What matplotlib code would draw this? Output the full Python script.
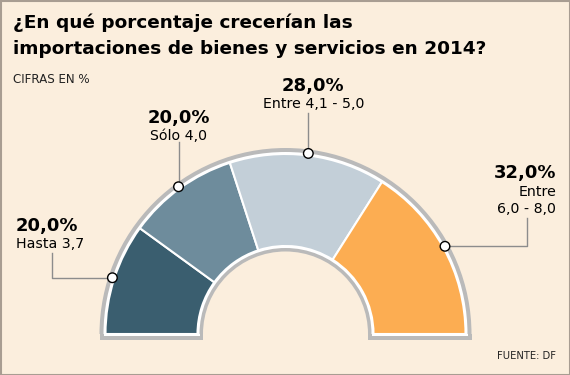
import matplotlib
matplotlib.use("Agg")
import matplotlib.pyplot as plt
from matplotlib.patches import Wedge, Rectangle, Circle
import numpy as np

# datos del grafico
pcts = [20.0, 20.0, 28.0, 32.0]
pct_labels = ["20,0%", "20,0%", "28,0%", "32,0%"]
range_labels = ["Hasta 3,7", "Sólo 4,0", "Entre 4,1 - 5,0", "Entre\n6,0 - 8,0"]
colors = ["#3a5e6f", "#6e8c9c", "#c3cfd8", "#fcad52"]
title = "¿En qué porcentaje crecerían las\nimportaciones de bienes y servicios en 2014?"
subtitle = "CIFRAS EN %"
source = "FUENTE: DF"

bg = "#fbeedd"
plt.rcParams['font.family'] = ['DejaVu Sans']

fig = plt.figure(figsize=(5.7, 3.75), dpi=100)
fig.patch.set_facecolor(bg)
ax = fig.add_axes([0, 0, 1, 1])
ax.set_xlim(0, 570)
ax.set_ylim(375, 0)
ax.axis("off")

# marco
ax.add_patch(Rectangle((0.5, 0.5), 569, 374, fill=False, edgecolor="#a89d92", lw=1.5))

# textos de cabecera
t1, t2 = title.split("\n")
ax.text(13, 28, t1, fontsize=13.3, fontweight="bold", color="black", va="baseline")
ax.text(13, 53.5, t2, fontsize=13.3, fontweight="bold", color="black", va="baseline")
ax.text(13, 83, subtitle, fontsize=8.6, color="#222222", va="baseline")
ax.text(556, 359, source, fontsize=7.2, color="#222222", va="baseline", ha="right")

# semi-dona
cx, cy = 285.5, 334
r_out, r_in = 180, 88
gray = "#bababa"
ax.add_patch(Wedge((cx, cy), 186, 180, 360, width=186 - 82.5, color=gray, lw=0))
ax.add_patch(Rectangle((cx - 186, cy), 103.5, 5.5, color=gray, lw=0))
ax.add_patch(Rectangle((cx + 82.5, cy), 103.5, 5.5, color=gray, lw=0))
ax.add_patch(Wedge((cx, cy), 182, 180, 360, width=182 - 86, color="white", lw=0))
ax.add_patch(Rectangle((cx - 182, cy), 96, 2, color="white", lw=0))
ax.add_patch(Rectangle((cx + 86, cy), 96, 2, color="white", lw=0))

tot = sum(pcts)
start = 180.0
mids = []
for p, c in zip(pcts, colors):
    span = 180.0 * p / tot
    ax.add_patch(Wedge((cx, cy), r_out, start, start + span, width=r_out - r_in,
                       facecolor=c, edgecolor="white", lw=1.5))
    mids.append(np.radians(start + span / 2))
    start += span

r_dot = 182
dots = [(cx + r_dot * np.cos(m), cy + r_dot * np.sin(m)) for m in mids]

# lineas guia y etiquetas
line_c = "#8c8c8c"
big, small = 13, 10.2
d = dots[0]
ax.plot([d[0], 52, 52], [d[1], d[1], 253], color=line_c, lw=1)
ax.text(16, 231, pct_labels[0], fontsize=big, fontweight="bold", va="baseline")
ax.text(16, 247.5, range_labels[0], fontsize=small, va="baseline")

d = dots[1]
ax.plot([d[0], d[0]], [d[1], 142], color=line_c, lw=1)
ax.text(178.5, 123, pct_labels[1], fontsize=big, fontweight="bold", va="baseline", ha="center")
ax.text(178.5, 140, range_labels[1], fontsize=small, va="baseline", ha="center")

d = dots[2]
ax.plot([d[0], d[0]], [d[1], 113], color=line_c, lw=1)
ax.text(313, 91, pct_labels[2], fontsize=big, fontweight="bold", va="baseline", ha="center")
ax.text(313.5, 108, range_labels[2], fontsize=small, va="baseline", ha="center")

d = dots[3]
ax.plot([d[0], 527, 527], [d[1], d[1], 218], color=line_c, lw=1)
ax.text(556, 178, pct_labels[3], fontsize=big, fontweight="bold", va="baseline", ha="right")
ax.text(556, 196, range_labels[3].split("\n")[0], fontsize=small, va="baseline", ha="right")
ax.text(556, 213, range_labels[3].split("\n")[1], fontsize=small, va="baseline", ha="right")

for d in dots:
    ax.add_patch(Circle(d, 4.8, facecolor="white", edgecolor="black", lw=1, zorder=5))

fig.savefig("out.png", dpi=100, facecolor=bg)
